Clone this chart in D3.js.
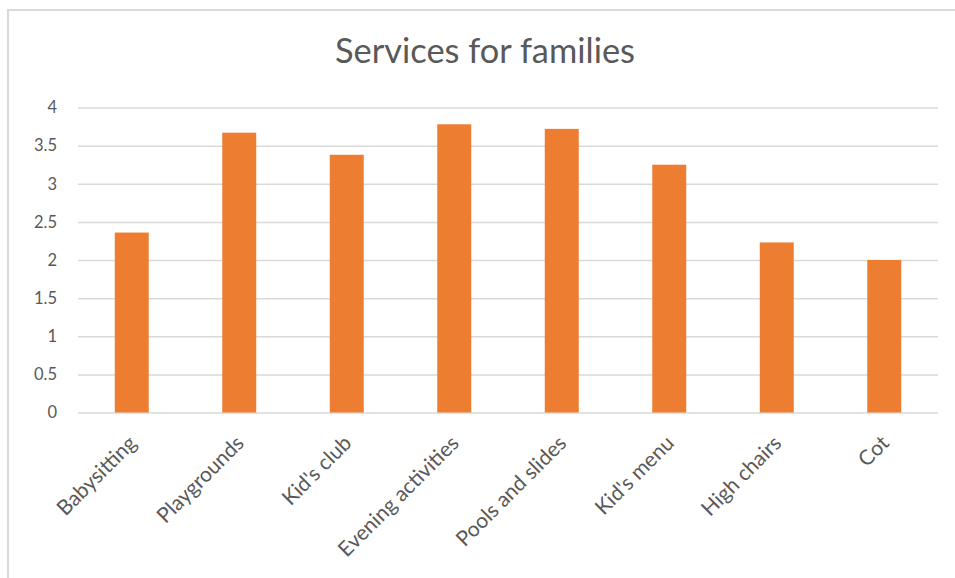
<!DOCTYPE html>
<html>
<head>
<meta charset="utf-8">
<script src="https://cdn.jsdelivr.net/npm/d3@7/dist/d3.min.js"></script>
<style>
  html, body { margin: 0; padding: 0; background: #fff; }
  svg { display: block; }
  text { font-family: Lato, "Open Sans", sans-serif; fill: #595959; }
</style>
</head>
<body>
<svg id="chart" width="955" height="578"></svg>
<script>
// Average rating per family service
const categories = ["Babysitting", "Playgrounds", "Kid's club", "Evening activities",
                    "Pools and slides", "Kid's menu", "High chairs", "Cot"];
const values = [2.36, 3.67, 3.38, 3.78, 3.72, 3.25, 2.23, 2.0];
const yTicks = [0, 0.5, 1, 1.5, 2, 2.5, 3, 3.5, 4];
const title = "Services for families";

const svg = d3.select("#chart");
const W = 955, H = 578;
const plot = { left: 78, right: 938, top: 107.5, bottom: 412.5 };

// Chart frame
svg.append("path")
  .attr("d", `M8,${H} L8,10 L${W},10`)
  .attr("fill", "none")
  .attr("stroke", "#d9d9d9")
  .attr("stroke-width", 2);

// Title, sized to its natural width
const t = svg.append("text")
  .attr("x", 485)
  .attr("y", 63)
  .attr("text-anchor", "middle")
  .style("font-size", "28px")
  .text(title);
const tw = t.node().getComputedTextLength();
t.style("font-size", (28 * 300 / tw) + "px");

const x = d3.scaleBand()
  .domain(categories)
  .range([plot.left, plot.right])
  .paddingInner(0.684)
  .paddingOuter(0.342);

const y = d3.scaleLinear()
  .domain([0, 4])
  .range([plot.bottom, plot.top]);

// Horizontal gridlines and value labels
const yAxis = d3.axisLeft(y)
  .tickValues(yTicks)
  .tickSize(-(plot.right - plot.left))
  .tickPadding(21)
  .tickFormat(d3.format("~g"));

const gy = svg.append("g")
  .attr("transform", `translate(${plot.left},0)`)
  .call(yAxis);
gy.select(".domain").remove();
gy.selectAll(".tick line").attr("stroke", "#d9d9d9").attr("stroke-width", 1.5);
gy.selectAll(".tick text")
  .style("font-size", "16.5px")
  .style("font-family", "Lato, sans-serif")
  .attr("fill", "#595959");

// Bars
svg.append("g").selectAll("rect")
  .data(values)
  .join("rect")
  .attr("x", (d, i) => x(categories[i]))
  .attr("y", d => y(d))
  .attr("width", x.bandwidth())
  .attr("height", d => y(0) - y(d))
  .attr("fill", "#ed7d31");

// Category labels, slanted
const xAxis = d3.axisBottom(x).tickSize(0).tickPadding(0);
const gx = svg.append("g")
  .attr("transform", `translate(0,${plot.bottom})`)
  .call(xAxis);
gx.select(".domain").remove();
gx.selectAll(".tick text")
  .style("font-size", "21px")
  .style("font-family", "Lato, sans-serif")
  .attr("fill", "#595959")
  .attr("text-anchor", "end")
  .attr("dy", null)
  .attr("y", 0)
  .attr("transform", "translate(6,32) rotate(-45)");
</script>
</body>
</html>
